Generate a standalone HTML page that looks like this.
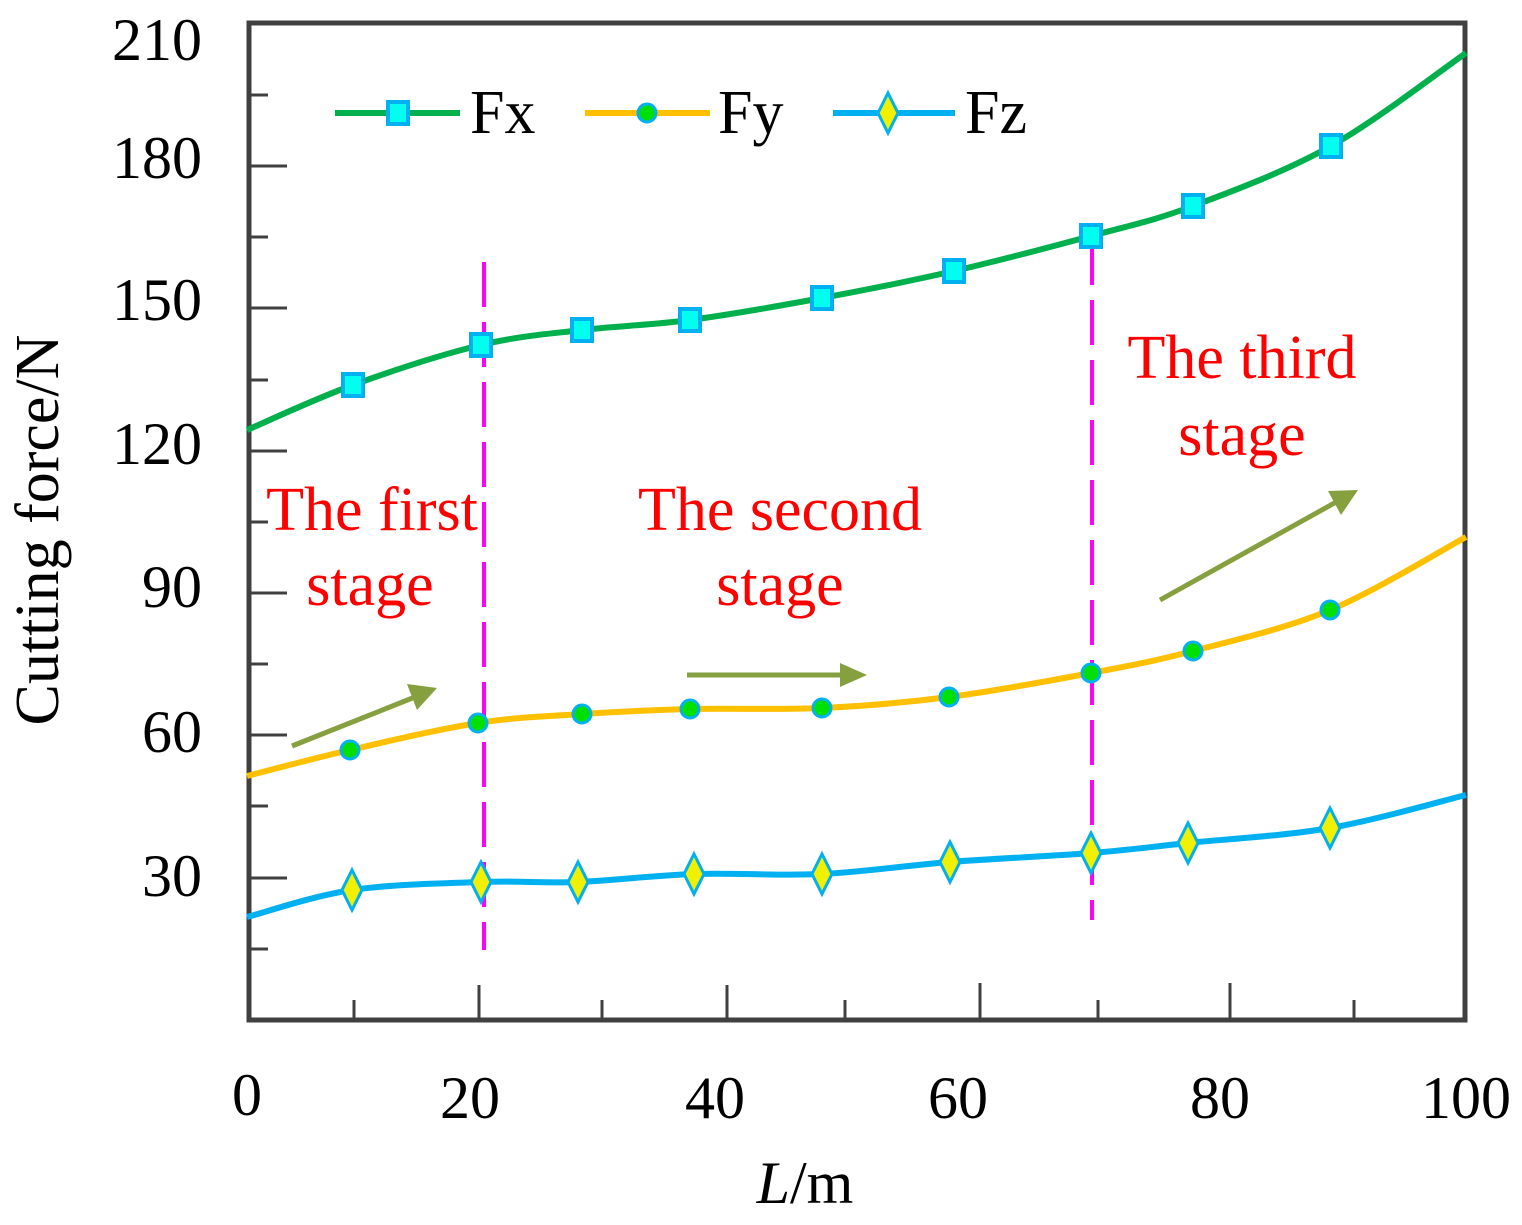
<!DOCTYPE html>
<html><head><meta charset="utf-8"><style>
html,body{margin:0;padding:0;background:#fff;}
svg{display:block;}
text{font-family:"Liberation Serif",serif;}
</style></head><body>
<svg id="s" width="1522" height="1225" viewBox="0 0 1522 1225" xmlns="http://www.w3.org/2000/svg">
<g stroke="#404040" stroke-width="3">
<line x1="247" y1="949" x2="268" y2="949"/>
<line x1="247" y1="878" x2="287" y2="878"/>
<line x1="247" y1="806" x2="268" y2="806"/>
<line x1="247" y1="735" x2="287" y2="735"/>
<line x1="247" y1="664" x2="268" y2="664"/>
<line x1="247" y1="593" x2="287" y2="593"/>
<line x1="247" y1="522" x2="268" y2="522"/>
<line x1="247" y1="451" x2="287" y2="451"/>
<line x1="247" y1="380" x2="268" y2="380"/>
<line x1="247" y1="308" x2="287" y2="308"/>
<line x1="247" y1="237" x2="268" y2="237"/>
<line x1="247" y1="166" x2="287" y2="166"/>
<line x1="247" y1="95" x2="268" y2="95"/>
<line x1="354" y1="1020" x2="354" y2="1000"/>
<line x1="479" y1="1020" x2="479" y2="985"/>
<line x1="602" y1="1020" x2="602" y2="1000"/>
<line x1="727" y1="1020" x2="727" y2="985"/>
<line x1="845" y1="1020" x2="845" y2="1000"/>
<line x1="980" y1="1020" x2="980" y2="983"/>
<line x1="1098" y1="1020" x2="1098" y2="1000"/>
<line x1="1230" y1="1020" x2="1230" y2="983"/>
<line x1="1354" y1="1020" x2="1354" y2="1000"/>
</g>
<rect x="249" y="23" width="1216" height="997" fill="none" stroke="#404040" stroke-width="5"/>
<g font-size="60" text-anchor="end" fill="#000">
<text x="202" y="60">210</text><text x="202" y="178">180</text><text x="202" y="320">150</text>
<text x="202" y="464">120</text><text x="202" y="607">90</text><text x="202" y="752">60</text><text x="202" y="896">30</text>
</g>
<g font-size="60" text-anchor="middle" fill="#000">
<text x="247" y="1115">0</text><text x="470" y="1118">20</text><text x="715" y="1118">40</text>
<text x="958" y="1118">60</text><text x="1220" y="1118">80</text><text x="1466" y="1118">100</text>
<text x="805" y="1203"><tspan font-style="italic">L</tspan>/m</text>
<text transform="translate(58,530) rotate(-90)" font-size="62">Cutting force/N</text>
</g>
<g stroke="#ff00ff" stroke-width="4" stroke-dasharray="45,15">
<line x1="484" y1="262" x2="484" y2="950"/>
<line x1="1092" y1="240" x2="1092" y2="920"/>
</g>
<g id="series"></g>
<g fill="#ff0000" font-size="62" text-anchor="middle">
<text x="372" y="530">The first</text><text x="370" y="605">stage</text>
<text x="780" y="530">The second</text><text x="780" y="605">stage</text>
<text x="1242" y="378">The third</text><text x="1242" y="455">stage</text>
</g>
<g stroke="#86a040" stroke-width="5" fill="#86a040">
<line x1="292" y1="746" x2="415" y2="697"/><polygon points="437,688 407,684 417,710" stroke="none"/>
<line x1="687" y1="675" x2="843" y2="675"/><polygon points="867,675 840,663 840,687" stroke="none"/>
<line x1="1160" y1="600" x2="1338" y2="501"/><polygon points="1358,490 1328,491 1341,515" stroke="none"/>
</g>
</svg>
<script>
function cr(p){let d="M"+p[0][0]+","+p[0][1];for(let i=0;i<p.length-1;i++){const a=p[i-1]||p[i],b=p[i],c=p[i+1],e=p[i+2]||c;d+=" C"+(b[0]+(c[0]-a[0])/6)+","+(b[1]+(c[1]-a[1])/6)+" "+(c[0]-(e[0]-b[0])/6)+","+(c[1]-(e[1]-b[1])/6)+" "+c[0]+","+c[1];}return d;}
const S=[
{c:"#00b04c",m:"sq",p:[[247,430],[353,385],[481,345],[582,330],[690,320],[822,298],[954,271],[1091,236],[1193,206],[1331,146],[1466,53]]},
{c:"#ffc000",m:"ci",p:[[247,776],[350,750],[478,723],[582,714],[690,709],[822,708],[949,697],[1091,673],[1193,651],[1330,610],[1466,537]]},
{c:"#00b0f0",m:"di",p:[[247,917],[352,890],[481,882],[578,882],[694,874],[822,874],[950,862],[1091,853],[1188,843],[1330,828],[1466,795]]}];
const g=document.getElementById("series");let h="";
function mk(t,x,y){if(t=="sq")return `<rect x="${x-10}" y="${y-11}" width="20" height="22" fill="#00ffee" stroke="#00b0f0" stroke-width="4"/>`;
if(t=="ci")return `<circle cx="${x}" cy="${y}" r="9" fill="#00e000" stroke="#00b0f0" stroke-width="3"/>`;
return `<polygon points="${x},${y-20} ${x+10},${y} ${x},${y+20} ${x-10},${y}" fill="#f0f000" stroke="#00b0f0" stroke-width="3"/>`;}
S.forEach(s=>{h+=`<path d="${cr(s.p)}" fill="none" stroke="${s.c}" stroke-width="6"/>`;s.p.slice(1,-1).forEach(q=>h+=mk(s.m,q[0],q[1]));});
const L=[[335,460,398,470,"Fx",0],[585,710,647,718,"Fy",1],[833,955,888,965,"Fz",2]];
L.forEach(l=>{const s=S[l[5]];h+=`<line x1="${l[0]}" y1="113" x2="${l[1]}" y2="113" stroke="${s.c}" stroke-width="6"/>`+mk(s.m,l[2],113)+`<text x="${l[3]}" y="133" font-size="62" fill="#000">${l[4]}</text>`;});
g.innerHTML=h;
</script>
</body></html>
